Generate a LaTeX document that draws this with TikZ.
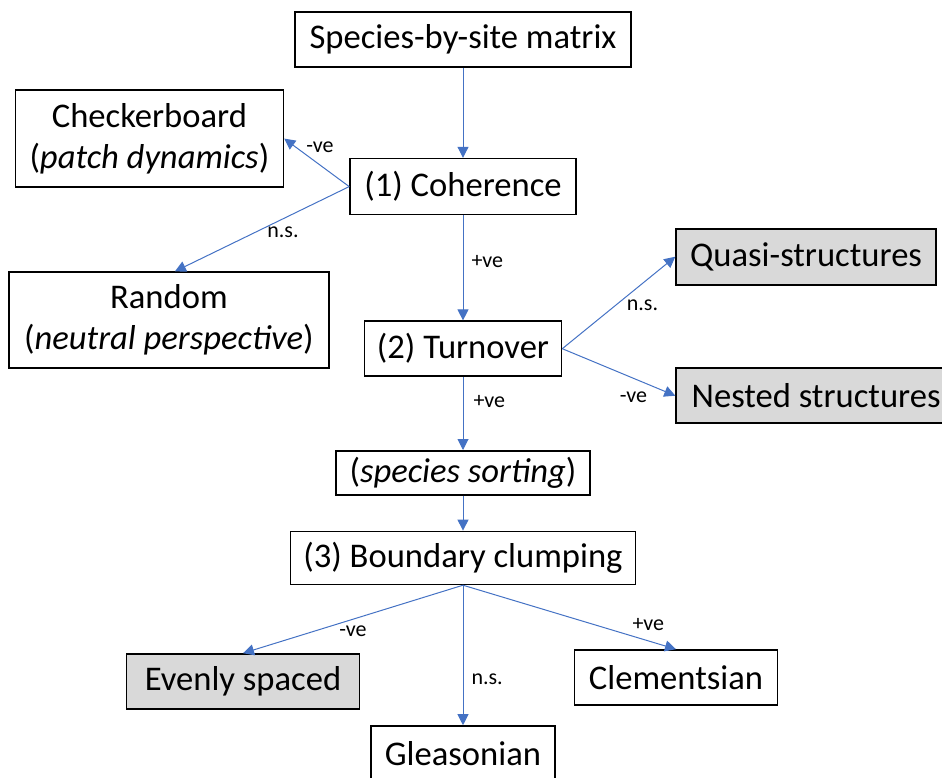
\documentclass[tikz,border=0pt]{standalone}
\usepackage{fontspec}
\setmainfont{Carlito}
\usepackage{xcolor}
\usetikzlibrary{
    arrows.meta,
    positioning,
}
\definecolor{flowblue}{HTML}{4472C4}
\definecolor{outgray}{HTML}{D9D9D9}

\begin{document}
\begin{tikzpicture}[
    >={Triangle[length=5.5pt,width=5.5pt]},
    box/.style     = {draw, line width=0.8pt, inner sep=0pt, align=center,
                      minimum height=27.5pt, font=\fontsize{17.3}{20.5}\selectfont},
    outcome/.style = {box, fill=outgray},
    flow/.style    = {->, draw=flowblue, line width=0.5pt},
    lbl/.style     = {font=\fontsize{11}{13}\selectfont, inner sep=1pt},
]

\useasboundingbox (0,0) rectangle (471pt,-388.5pt);

%% ── Main column ──────────────────────────────────────────────────────────────
\node[box, minimum width=168pt] (mat) at (231.5pt,-19.75pt) {Species-by-site matrix};
\node[box, minimum width=113pt, minimum height=28pt, below=45pt of mat] (coh) {(1) Coherence};
\node[box, minimum width=98.5pt, below=52.5pt of coh] (turn) {(2) Turnover};
\node[box, minimum width=127pt, minimum height=22pt, below=36.5pt of turn] (sort) {(\textit{species sorting})};
\node[box, minimum width=172.5pt, minimum height=26.5pt, below=17.5pt of sort] (bnd) {(3) Boundary clumping};
\node[box, minimum width=92pt, below=70pt of bnd] (gle) {Gleasonian};

%% ── Side outcomes ────────────────────────────────────────────────────────────
\node[box, minimum width=134pt, minimum height=48.5pt,
      left=32.5pt of coh, yshift=24pt] (chk) {Checkerboard\\(\textit{patch dynamics})};
\node[box, minimum width=160pt, minimum height=48pt,
      left=17pt of turn, yshift=14.25pt] (rnd) {Random\\(\textit{neutral perspective})};
\node[outcome, minimum width=130pt, minimum height=28pt,
      right=56.5pt of turn, yshift=46pt] (qua) {Quasi-structures};
\node[outcome, minimum width=140pt,
      right=56.5pt of turn, yshift=-23.5pt] (nst) {Nested structures};
\node[outcome, minimum width=116.5pt,
      below=34pt of bnd, xshift=-110pt] (evn) {Evenly spaced};
\node[box, minimum width=101.5pt,
      below=32pt of bnd, xshift=106.5pt] (clm) {Clementsian};

%% ── Connectors ───────────────────────────────────────────────────────────────
\draw[flow] (mat) -- (coh);
\draw[flow] (coh.west) -- node[lbl, pos=0.45, above=5pt] {-ve} (chk.east);
\draw[flow] (coh.west) -- node[lbl, pos=0.38, below=3pt] {n.s.} ([xshift=3pt]rnd.north);
\draw[flow] (coh) -- node[lbl, pos=0.44, right=3pt] {+ve} (turn);
\draw[flow] (turn.east) -- node[lbl, pos=0.71, below=7pt] {n.s.} (qua.west);
\draw[flow] (turn.east) -- node[lbl, pos=0.63, below=5.5pt] {-ve} (nst.west);
\draw[flow] (turn) -- node[lbl, pos=0.33, right=4pt] {+ve} (sort);
\draw[flow] (sort) -- (bnd);
\draw[flow] (bnd.south) -- node[lbl, pos=0.5, below=2pt] {-ve} (evn.north);
\draw[flow] (bnd.south) -- node[lbl, pos=0.67, right=3pt] {n.s.} (gle.north);
\draw[flow] (bnd.south) -- node[lbl, pos=0.87, above=4pt] {+ve} (clm.north);

\end{tikzpicture}
\end{document}
